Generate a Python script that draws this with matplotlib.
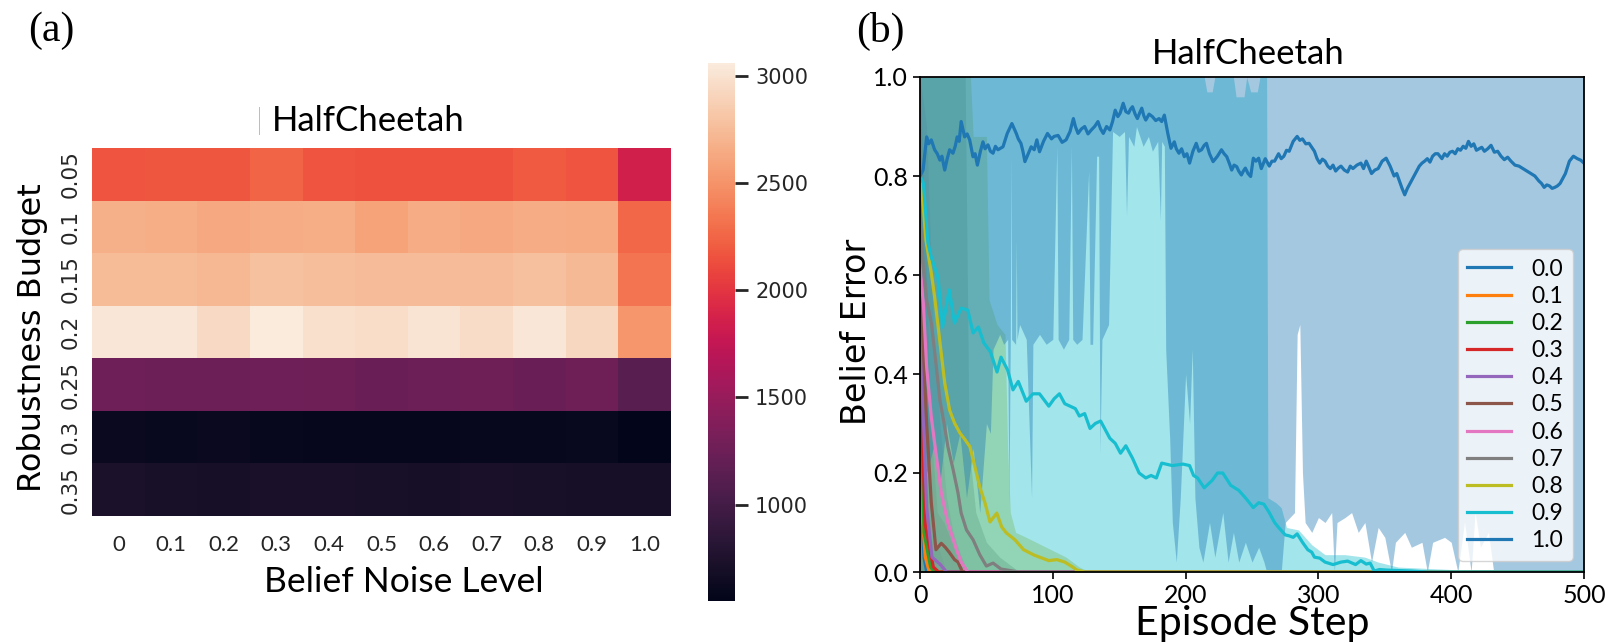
import matplotlib
matplotlib.use("Agg")
import matplotlib.pyplot as plt
import numpy as np
import seaborn as sns
from matplotlib.lines import Line2D

# ---------------- data: heatmap (a) ----------------
noise_levels = ["0", "0.1", "0.2", "0.3", "0.4", "0.5", "0.6", "0.7", "0.8", "0.9", "1.0"]
budgets = ["0.05", "0.1", "0.15", "0.2", "0.25", "0.3", "0.35"]
ret_b005 = [2160, 2170, 2170, 2240, 2160, 2150, 2150, 2155, 2195, 2165, 1850]
ret_b010 = [2670, 2660, 2620, 2650, 2660, 2590, 2650, 2630, 2650, 2640, 2260]
ret_b015 = [2740, 2740, 2720, 2780, 2760, 2750, 2750, 2750, 2770, 2730, 2330]
ret_b020 = [3030, 3030, 2940, 3060, 2990, 2970, 3010, 2960, 3030, 2930, 2520]
ret_b025 = [1260, 1240, 1240, 1260, 1250, 1230, 1240, 1250, 1230, 1250, 1130]
ret_b030 = [620, 600, 610, 590, 580, 580, 580, 590, 590, 600, 550]
ret_b035 = [730, 710, 700, 720, 720, 715, 700, 720, 710, 700, 700]

# ---------------- data: belief error curves (b) ----------------
series_labels = ["0.0", "0.1", "0.2", "0.3", "0.4", "0.5", "0.6", "0.7", "0.8", "0.9", "1.0"]

line_00 = [(0, 0.30), (1, 0.15), (3, 0.03), (5, 0.0), (500, 0.0)]
line_01 = [(0, 0.35), (2, 0.10), (4, 0.03), (7, 0.0), (500, 0.0)]
line_02 = [(0, 0.40), (2, 0.20), (3, 0.08), (8, 0.01), (11, 0.0), (500, 0.0)]
line_03 = [(0, 0.45), (2, 0.25), (4, 0.095), (10, 0.01), (14, 0.0), (500, 0.0)]
line_04 = [(0, 0.50), (2, 0.35), (5, 0.13), (9, 0.03), (15, 0.016), (20, 0.0), (500, 0.0)]
line_05 = [(0, 0.60), (2.5, 0.45), (5, 0.30), (8.5, 0.14), (12, 0.045), (16, 0.058),
           (19, 0.05), (22, 0.04), (26, 0.025), (28.6, 0.02), (32, 0.0), (500, 0.0)]
line_06 = [(0, 0.62), (2.5, 0.543), (5, 0.414), (8.5, 0.313), (12, 0.24), (16, 0.16),
           (21, 0.099), (27.6, 0.044), (31, 0.02), (36, 0.0), (500, 0.0)]
line_07 = [(0, 0.72), (2.5, 0.616), (5, 0.549), (8.5, 0.503), (12, 0.422), (15, 0.347),
           (18.6, 0.293), (21, 0.253), (25, 0.206), (28.6, 0.16), (31, 0.119), (35, 0.085),
           (40, 0.065), (45, 0.035), (50, 0.012), (55, 0.018), (61, 0.006), (70, 0.002),
           (74, 0.0), (500, 0.0)]
line_08 = [(0, 0.79), (1, 0.786), (4.5, 0.67), (8.5, 0.604), (11, 0.556), (14.8, 0.469),
           (18.6, 0.382), (22.3, 0.327), (26, 0.301), (30, 0.281), (34, 0.267), (37.6, 0.253),
           (41.4, 0.212), (45, 0.172), (49, 0.139), (52.7, 0.101), (57.8, 0.119), (61.5, 0.091),
           (65, 0.079), (71.5, 0.065), (78, 0.045), (86, 0.034), (97, 0.023), (103, 0.025),
           (109, 0.02), (115, 0.01), (118, 0.004), (124, 0.0), (500, 0.0)]
line_09 = [(0, 0.80), (2.5, 0.786), (6, 0.664), (8.5, 0.636), (13.5, 0.596), (17, 0.495),
           (22, 0.57), (26, 0.503), (31, 0.533), (36, 0.529), (40, 0.483), (44, 0.495),
           (48, 0.463), (53, 0.445), (58, 0.404), (61, 0.434), (66, 0.408), (70, 0.368),
           (74, 0.385), (80, 0.345), (85, 0.36), (90, 0.36), (97, 0.335), (101, 0.35),
           (105, 0.36), (109, 0.34), (113, 0.335), (117, 0.33), (120, 0.315), (124, 0.32),
           (128, 0.29), (132, 0.30), (136, 0.305), (140, 0.285), (143, 0.27), (147, 0.26),
           (151, 0.24), (155, 0.255), (160, 0.23), (165, 0.20), (170, 0.19), (174, 0.195),
           (178, 0.19), (182, 0.22), (190, 0.215), (198, 0.218), (203, 0.215), (206, 0.195),
           (209, 0.19), (214, 0.17), (220, 0.185), (224, 0.20), (228, 0.20), (234, 0.175),
           (240, 0.165), (245, 0.15), (251, 0.13), (255, 0.14), (259, 0.137), (263, 0.12),
           (267, 0.10), (270, 0.09), (272, 0.084), (275, 0.075), (278, 0.073), (281, 0.07),
           (284, 0.077), (288, 0.06), (292, 0.045), (295, 0.04), (297, 0.03), (301, 0.028),
           (305, 0.02), (311, 0.015), (317, 0.02), (322, 0.022), (328, 0.015), (332, 0.023),
           (336, 0.016), (339, 0.018), (342, 0.002), (346, 0.005), (351, 0.004), (360, 0.003),
           (370, 0.002), (382, 0.0), (500, 0.0)]
line_10 = [(0, 0.80), (2.3, 0.812), (5, 0.879), (6.5, 0.865), (8.5, 0.873), (11, 0.853),
           (13, 0.845), (15, 0.832), (16.5, 0.84), (18.6, 0.812), (20.5, 0.835), (22.3, 0.853),
           (24.8, 0.846), (26.5, 0.86), (28, 0.879), (29.5, 0.87), (31, 0.910), (33.6, 0.879),
           (35.5, 0.885), (37.4, 0.873), (39.9, 0.839), (41.5, 0.845), (43.2, 0.822), (45.5, 0.85),
           (47.4, 0.869), (49, 0.855), (51.2, 0.863), (53, 0.85), (55, 0.846), (56.8, 0.86),
           (58.7, 0.853), (62.5, 0.859), (64, 0.872), (65.7, 0.886), (69.2, 0.906), (71, 0.895),
           (72.5, 0.886), (74, 0.875), (76, 0.866), (77.5, 0.85), (79, 0.829), (81.5, 0.845),
           (83.7, 0.859), (86, 0.853), (88, 0.873), (90, 0.849), (93, 0.87), (96, 0.886),
           (99, 0.875), (101, 0.88), (104, 0.882), (107, 0.868), (110, 0.873), (113, 0.89),
           (115.5, 0.916), (117, 0.9), (119, 0.886), (121.5, 0.895), (124, 0.900), (126.5, 0.885),
           (129, 0.893), (131.5, 0.9), (134, 0.910), (136, 0.895), (138, 0.886), (140.5, 0.9),
           (143, 0.893), (145, 0.91), (147, 0.933), (149, 0.92), (150.7, 0.927), (153, 0.947),
           (155, 0.93), (157, 0.927), (158.5, 0.935), (160, 0.940), (162, 0.925), (163.7, 0.916),
           (165.5, 0.928), (167, 0.937), (168.5, 0.922), (170, 0.913), (172.5, 0.925), (175, 0.920),
           (177.5, 0.912), (180, 0.916), (182, 0.91), (184, 0.923), (186.6, 0.886), (189, 0.856),
           (191.5, 0.869), (193, 0.855), (195, 0.846), (197, 0.855), (199, 0.839), (201, 0.845),
           (203, 0.826), (205.5, 0.85), (208, 0.866), (210, 0.85), (212, 0.853), (214, 0.862),
           (215.7, 0.866), (218, 0.845), (220.7, 0.829), (224, 0.84), (227, 0.853), (229, 0.845),
           (231, 0.839), (233, 0.825), (234.7, 0.812), (236.5, 0.822), (238.5, 0.819), (240, 0.81),
           (242, 0.802), (243.5, 0.81), (245, 0.816), (247, 0.805), (249, 0.799), (251, 0.836),
           (253, 0.83), (255, 0.836), (257, 0.815), (260, 0.835), (263, 0.82), (265, 0.83),
           (267, 0.83), (270, 0.845), (272, 0.835), (274, 0.84), (276, 0.852), (278, 0.85),
           (281, 0.87), (284, 0.88), (286, 0.872), (288, 0.875), (290.5, 0.865), (293, 0.866),
           (295, 0.858), (297, 0.85), (299, 0.835), (301, 0.826), (303, 0.834), (305, 0.83),
           (307, 0.82), (309, 0.815), (311, 0.822), (313, 0.81), (315, 0.816), (317, 0.82),
           (319.5, 0.812), (322, 0.808), (324, 0.82), (326, 0.815), (329, 0.822), (332, 0.826),
           (334, 0.815), (336, 0.83), (338, 0.818), (340, 0.805), (342.5, 0.812), (345, 0.815),
           (348, 0.83), (351, 0.836), (354, 0.82), (357, 0.80), (359, 0.805), (361, 0.79),
           (363, 0.775), (365, 0.762), (367, 0.775), (370, 0.79), (372, 0.8), (374, 0.81),
           (376, 0.82), (378, 0.826), (380, 0.83), (382, 0.835), (384, 0.828), (386, 0.84),
           (388, 0.845), (390, 0.845), (393, 0.835), (395, 0.845), (397, 0.84), (399, 0.848),
           (401, 0.85), (403, 0.845), (405, 0.855), (407, 0.852), (409, 0.86), (411, 0.856),
           (413, 0.87), (415, 0.86), (417, 0.865), (419, 0.852), (421, 0.855), (423, 0.858),
           (425, 0.85), (427.5, 0.855), (430, 0.862), (432.5, 0.848), (435, 0.85), (437.5, 0.84),
           (440, 0.833), (442.5, 0.838), (445, 0.83), (448, 0.822), (451, 0.82), (454, 0.815),
           (457, 0.81), (460, 0.805), (463, 0.80), (466, 0.79), (468, 0.785), (470, 0.777),
           (472, 0.782), (474, 0.78), (476, 0.775), (478, 0.777), (480, 0.78), (482, 0.785),
           (484, 0.795), (486, 0.805), (489, 0.83), (492, 0.84), (495, 0.835), (497.5, 0.832),
           (500, 0.826)]

# shaded spread: upper bounds (lower bound 0) for 0.0 ... 0.9
band_00_high = [(0, 1.0), (2, 0.5), (4, 0.1), (6, 0.0), (500, 0.0)]
band_01_high = [(0, 0.6), (3, 0.1), (7, 0.0), (500, 0.0)]
band_02_high = [(0, 0.7), (3, 0.15), (8, 0.03), (12, 0.0), (500, 0.0)]
band_03_high = [(0, 0.8), (4, 0.2), (10, 0.03), (14, 0.0), (500, 0.0)]
band_04_high = [(0, 0.9), (5, 0.3), (9, 0.08), (15, 0.04), (20, 0.0), (500, 0.0)]
band_05_high = [(0, 1.0), (4, 0.7), (8, 0.3), (13, 0.12), (18, 0.1), (24, 0.06), (30, 0.02), (33, 0.0), (500, 0.0)]
band_06_high = [(0, 1.0), (5, 0.9), (10, 0.5), (15, 0.3), (20, 0.15), (25, 0.08), (30, 0.04), (36, 0.0), (500, 0.0)]
band_07_high = [(0, 1.0), (34, 1.0), (37, 0.25), (42, 0.12), (50, 0.06), (60, 0.03), (70, 0.01), (75, 0.0), (500, 0.0)]
band_08_high = [(0, 1.0), (38, 1.0), (40, 0.88), (50, 0.88), (52, 0.55), (58, 0.50), (64, 0.48), (66, 0.25),
                (68, 0.12), (72, 0.08), (80, 0.07), (95, 0.05), (110, 0.03), (120, 0.01), (128, 0.0), (500, 0.0)]
band_09_high = [(0, 1.0), (214, 1.0), (216, 0.97), (220, 0.97), (222, 1.0), (236, 1.0), (238, 0.96),
                (244, 0.96), (246, 1.0), (249, 0.97), (254, 0.97), (256, 1.0), (261, 1.0), (262, 0.15),
                (268, 0.14), (272, 0.13), (276, 0.09), (285, 0.085), (295, 0.055), (305, 0.035),
                (320, 0.035), (335, 0.03), (345, 0.02), (360, 0.01), (400, 0.005), (420, 0.0), (500, 0.0)]
# for 1.0 the upper bound is 1.0 everywhere; lower bound:
band_10_low = [(0, 0.80), (2, 0.35), (5, 0.20), (10, 0.25), (15, 0.18), (20, 0.30), (25, 0.22), (30, 0.28),
               (35, 0.15), (40, 0.25), (45, 0.12), (50, 0.30), (53, 0.28), (55, 0.45), (60, 0.48), (63, 0.46),
               (66, 0.47), (67, 0.14), (68, 0.47), (68.5, 0.84), (69, 0.47), (72, 0.46), (72.5, 0.67),
               (73, 0.47), (75, 0.50), (80, 0.47), (84, 0.15), (85, 0.46), (90, 0.48), (95, 0.46),
               (100, 0.47), (103, 0.86), (104, 0.47), (108, 0.45), (112, 0.47), (114, 0.86), (115, 0.47),
               (118, 0.46), (122, 0.47), (127, 0.81), (128, 0.46), (130, 0.46), (133, 0.84), (134.5, 0.84),
               (135.5, 0.24), (137, 0.47), (142, 0.50), (145, 0.89), (150, 0.88), (154, 0.89), (155.5, 0.72),
               (157, 0.88), (161, 0.86), (163, 0.90), (168, 0.86), (172, 0.88), (175, 0.85), (179, 0.87),
               (181, 0.71), (182, 0.87), (184, 0.86), (185, 0.45), (188, 0.27), (190, 0.10), (193, 0.02),
               (196, 0.15), (200, 0.40), (203, 0.30), (205, 0.45), (207, 0.15), (210, 0.05), (213, 0.02),
               (218, 0.10), (222, 0.03), (228, 0.12), (232, 0.02), (236, 0.08), (240, 0.02), (245, 0.06),
               (250, 0.02), (255, 0.05), (259, 0.02), (261, 0.0), (272, 0.0), (275, 0.10), (282, 0.12),
               (284, 0.48), (286, 0.50), (288, 0.20), (290, 0.10), (295, 0.08), (300, 0.11), (305, 0.10),
               (310, 0.12), (312, 0.0), (314, 0.10), (320, 0.11), (325, 0.12), (330, 0.08), (335, 0.10),
               (340, 0.02), (345, 0.09), (350, 0.07), (355, 0.0), (358, 0.06), (365, 0.08), (370, 0.05),
               (378, 0.06), (382, 0.0), (386, 0.06), (395, 0.07), (400, 0.06), (405, 0.0), (410, 0.10),
               (415, 0.0), (418, 0.12), (422, 0.05), (428, 0.08), (432, 0.0), (500, 0.0)]

lines = [line_00, line_01, line_02, line_03, line_04, line_05, line_06, line_07, line_08, line_09, line_10]
bands_high = [band_00_high, band_01_high, band_02_high, band_03_high, band_04_high, band_05_high,
              band_06_high, band_07_high, band_08_high, band_09_high]
colors = ["tab:blue", "tab:orange", "tab:green", "tab:red", "tab:purple", "tab:brown",
          "tab:pink", "tab:gray", "tab:olive", "tab:cyan", "tab:blue"]

HUMANIST = ["Lato", "DejaVu Sans"]
W, H = 1614, 643

fig = plt.figure(figsize=(W / 100, H / 100), dpi=100)


def fx(px):
    return px / W


def fy(py):
    return 1 - py / H


# ---------------- panel (a) ----------------
ax_hm = fig.add_axes([fx(92), fy(516), fx(671) - fx(92), fy(148) - fy(516)])
ax_cb = fig.add_axes([fx(708), fy(601), fx(735) - fx(708), fy(63) - fy(601)])
heat = np.array([ret_b005, ret_b010, ret_b015, ret_b020, ret_b025, ret_b030, ret_b035])
sns.heatmap(heat, ax=ax_hm, cbar_ax=ax_cb, cmap="rocket",
            xticklabels=noise_levels, yticklabels=budgets)
ax_hm.tick_params(axis="both", length=0)
ax_hm.tick_params(axis="y", pad=8)
ax_hm.tick_params(axis="x", pad=14)
for t in ax_hm.get_yticklabels():
    t.set_rotation(90)
    t.set_va("center")
    t.set_fontsize(15.5)
    t.set_color("#262626")
    t.set_family("DejaVu Sans")
for t in ax_hm.get_xticklabels():
    t.set_rotation(0)
    t.set_fontsize(16)
    t.set_color("#262626")
    t.set_family(HUMANIST)
ax_cb.tick_params(labelsize=15, labelcolor="#262626", length=9.5, width=2, color="#262626", pad=5)
for s in ax_cb.spines.values():
    s.set_visible(False)

fig.text(fx(368), fy(121), "HalfCheetah", fontsize=25, family=HUMANIST, ha="center", va="center")
fig.add_artist(Line2D([fx(259), fx(259)], [fy(107), fy(134)], color="#bbbbbb", lw=0.7))
fig.text(fx(404), fy(582), "Belief Noise Level", fontsize=25.5, family=HUMANIST, ha="center", va="center")
fig.text(fx(33), fy(338), "Robustness Budget", fontsize=23, family="DejaVu Sans",
         rotation=90, ha="center", va="center")
fig.text(fx(51), fy(31), "(a)", fontsize=30, family=["Liberation Serif", "DejaVu Serif"],
         ha="center", va="center")

# ---------------- panel (b) ----------------
ax = fig.add_axes([fx(920), fy(572), fx(1584) - fx(920), fy(77) - fy(572)])
for i in range(10):
    bx, bh = zip(*bands_high[i])
    ax.fill_between(bx, 0, bh, color=colors[i], alpha=0.4, linewidth=0)
bx, bl = zip(*band_10_low)
ax.fill_between(bx, bl, 1.0, color=colors[10], alpha=0.4, linewidth=0)

handles = []
for i in range(11):
    lx, ly = zip(*lines[i])
    h, = ax.plot(lx, ly, color=colors[i], lw=2.3, label=series_labels[i])
    handles.append(h)

ax.set_xlim(0, 500)
ax.set_ylim(0, 1.0)
ax.set_xticks([0, 100, 200, 300, 400, 500])
ax.set_yticks([0.0, 0.2, 0.4, 0.6, 0.8, 1.0])
ax.set_yticklabels(["0.0", "0.2", "0.4", "0.6", "0.8", "1.0"])
ax.tick_params(labelsize=18, length=5, width=1.2)
for t in ax.get_xticklabels() + ax.get_yticklabels():
    t.set_family(HUMANIST)
for s in ax.spines.values():
    s.set_linewidth(1.3)

ax.legend(handles=handles, loc="lower right", prop={"family": HUMANIST, "size": 16.5},
          handlelength=1.9, labelspacing=0.27, borderaxespad=0.5, handletextpad=0.9)

fig.text(fx(1248), fy(54), "HalfCheetah", fontsize=25, family=HUMANIST, ha="center", va="center")
fig.text(fx(1252), fy(624), "Episode Step", fontsize=29.5, family=HUMANIST, ha="center", va="center")
fig.text(fx(856), fy(332), "Belief Error", fontsize=24, family="DejaVu Sans",
         rotation=90, ha="center", va="center")
fig.text(fx(880), fy(31), "(b)", fontsize=30, family=["Liberation Serif", "DejaVu Serif"],
         ha="center", va="center")

fig.savefig("out.png", dpi=100)
